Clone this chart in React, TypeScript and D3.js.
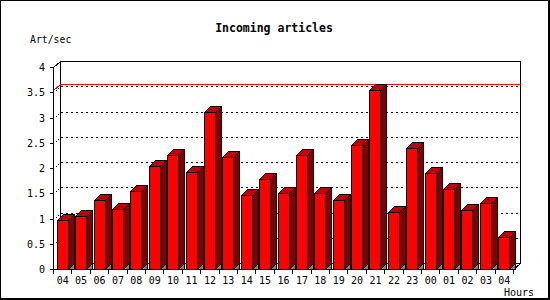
import React from "react";
import * as d3 from "d3";

const hours = ["04","05","06","07","08","09","10","11","12","13","14","15","16","17","18","19","20","21","22","23","00","01","02","03","04"];
const values = [0.97,1.05,1.37,1.19,1.55,2.03,2.26,1.92,3.11,2.22,1.47,1.78,1.50,2.26,1.50,1.36,2.45,3.55,1.13,2.39,1.91,1.58,1.16,1.30,0.63];
const yTicks = [0,0.5,1,1.5,2,2.5,3,3.5,4];
const yTickLabels = ["0","0.5","1","1.5","2","2.5","3","3.5","4"];
const gridValues = [0.5,1,1.5,2,2.5,3,3.5];
const title = "Incoming articles";
const yTitle = "Art/sec";
const xTitle = "Hours";

const W = 550, H = 300;
const X0 = 53.5, X1 = 513.5, Y0 = 269.5, Y1 = 67.5;
const WDX = 7, WDY = 6; // wall depth
const BDX = 6, BDY = 6; // bar depth
const FONT = "'DejaVu Sans Mono', monospace";

export default function App() {
  const x = d3.scaleBand<number>().domain(d3.range(values.length)).range([X0, X1]).padding(0);
  const yRaw = d3.scaleLinear().domain([0, 4]).range([Y0, Y1]);
  const y = (v: number) => Math.round(yRaw(v) - 0.5) + 0.5;
  const bw = Math.round(x.bandwidth() * 0.6);
  const maxV = d3.max(values) as number;
  const ticksX = d3.range(values.length + 1).map((i) => Math.round(X0 + i * x.step() - 0.5) + 0.5);

  return (
    <svg width={W} height={H} shapeRendering="crispEdges" style={{ position: "absolute", left: 0, top: 0, background: "#fff" }}>
      <rect x={0.5} y={0.5} width={548.5} height={298.5} fill="#fff" stroke="#000" strokeWidth={1.5} />
      <text x={274} y={32} textAnchor="middle" fontFamily={FONT} fontWeight="bold" fontSize={11.5}>{title}</text>
      <text x={30} y={42.5} fontFamily={FONT} fontSize={9.8}>{yTitle}</text>

      {/* back wall */}
      <rect x={X0 + WDX} y={Y1 - WDY} width={X1 - X0} height={Y0 - Y1} fill="#fff" stroke="#000" strokeWidth={1} />
      {/* gridlines */}
      {gridValues.map((v) => (
        <g key={v}>
          <line x1={X0 + WDX} x2={X1 + WDX} y1={y(v) - WDY} y2={y(v) - WDY} stroke="#000" strokeDasharray="2,3" strokeWidth={1} />
          <line x1={X0} x2={X0 + WDX} y1={y(v)} y2={y(v) - WDY} stroke="#000" strokeDasharray="1,2" strokeWidth={1} />
        </g>
      ))}
      {/* max line */}
      <polyline points={`${X0},${y(maxV)} ${X0 + WDX},${y(maxV) - WDY} ${X1 + WDX},${y(maxV) - WDY}`} fill="none" stroke="#ff0000" strokeWidth={1} />

      {/* right wall edge & floor edge */}
      <line x1={X1} y1={Y0} x2={X1 + WDX} y2={Y0 - WDY} stroke="#000" />
      <line x1={X0} y1={Y1} x2={X0 + WDX} y2={Y1 - WDY} stroke="#000" />

      {/* bars */}
      {values.map((v, i) => {
        const xl = Math.round((x(i) as number) + (x.bandwidth() - bw) / 2 - 0.5) + 0.5;
        const xr = xl + bw;
        const yt = y(v);
        return (
          <g key={i} stroke="#000" strokeWidth={1} strokeLinejoin="miter">
            <polygon points={`${xr},${Y0} ${xr + BDX},${Y0 - BDY} ${xr + BDX},${Y0}`} fill="#808080" />
            <polygon points={`${xr},${yt} ${xr + BDX},${yt - BDY} ${xr + BDX},${Y0 - BDY} ${xr},${Y0}`} fill="#800000" />
            <polygon points={`${xl},${yt} ${xl + BDX},${yt - BDY} ${xr + BDX},${yt - BDY} ${xr},${yt}`} fill="#c00000" />
            <rect x={xl} y={yt} width={bw} height={Y0 - yt} fill="#ff0000" />
          </g>
        );
      })}

      {/* axes */}
      <line x1={X0} x2={X0} y1={Y1} y2={Y0} stroke="#000" />
      <line x1={X0} x2={X1} y1={Y0} y2={Y0} stroke="#000" />
      {yTicks.map((v, i) => (
        <g key={v}>
          <line x1={X0 - 4} x2={X0} y1={y(v)} y2={y(v)} stroke="#000" />
          <text x={45} y={y(v) + 3.6} textAnchor="end" fontFamily={FONT} fontSize={10}>{yTickLabels[i]}</text>
        </g>
      ))}
      {ticksX.map((t, i) => (
        <line key={i} x1={t} x2={t} y1={Y0} y2={Y0 + 4} stroke="#000" />
      ))}
      {hours.map((h, i) => (
        <text key={i} x={(x(i) as number) + x.bandwidth() / 2} y={283.5} textAnchor="middle" fontFamily={FONT} fontSize={10}>{h}</text>
      ))}
      <text x={504} y={295.5} fontFamily={FONT} fontSize={10}>{xTitle}</text>
    </svg>
  );
}
